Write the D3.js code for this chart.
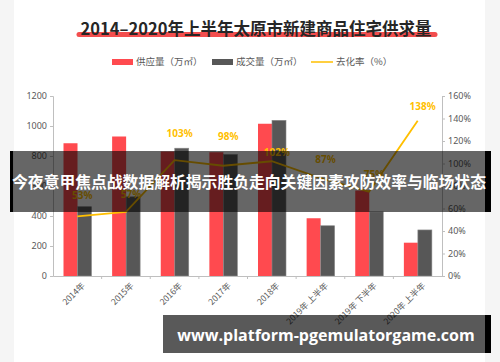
<!DOCTYPE html>
<html>
<head>
<meta charset="utf-8">
<script src="https://cdn.jsdelivr.net/npm/d3@7"></script>
<style>
  body { margin: 0; background: #fff; }
  svg { display: block; font-family: "Noto Sans CJK SC", "Noto Sans", sans-serif; }
</style>
</head>
<body>
<svg id="chart" width="500" height="362"></svg>
<script>
// 数据
const categories = ["2014年", "2015年", "2016年", "2017年", "2018年", "2019年 上半年", "2019年 下半年", "2020年 上半年"];
const supply = [885, 930, 830, 825, 1015, 385, 570, 222];
const deal = [462, 528, 852, 810, 1038, 335, 428, 307];
const rate = [53, 57, 103, 98, 102, 87, 75, 138];
const leftTicks = [0, 200, 400, 600, 800, 1000, 1200];
const rightTicks = [0, 20, 40, 60, 80, 100, 120, 140, 160];

// label offsets above the line point (layout only)
const labelDy = [-21, -17, -27, -29, -9, -19, -17, -14];

const svg = d3.select("#chart");
const W = 500, H = 362;
const margin = {top: 96, right: 58, bottom: 86, left: 53};
const plotBottom = H - margin.bottom; // 276

// faint card background
svg.append("rect").attr("width", W).attr("height", H).attr("fill", "#f5f5f5");
svg.append("rect").attr("x", 14).attr("y", 0).attr("width", 471).attr("height", H).attr("fill", "#fff");

// title with red brush underline
svg.append("line")
    .attr("x1", 79).attr("x2", 435).attr("y1", 34.5).attr("y2", 34.5)
    .attr("stroke", "#f23b3b").attr("stroke-width", 5).attr("stroke-linecap", "round")
    .attr("opacity", 0.9);
svg.append("text")
    .attr("x", 256).attr("y", 35)
    .attr("text-anchor", "middle")
    .attr("font-size", 16.5).attr("font-weight", "bold").attr("fill", "#262626")
    .text("2014–2020年上半年太原市新建商品住宅供求量");

// scales
const x = d3.scaleBand().domain(categories).range([margin.left, W - margin.right]);
const x1 = d3.scaleBand().domain(["supply", "deal"]).range([10.5, 38.5]);
const y = d3.scaleLinear().domain([0, 1200]).range([plotBottom, margin.top]);
const yR = d3.scaleLinear().domain([0, 160]).range([plotBottom, margin.top]);

const axisColor = "#bfbfbf";
const tickText = "#595959";

// bars
const bars = svg.append("g");
bars.selectAll(".supply")
    .data(supply)
    .join("rect")
    .attr("x", (d, i) => x(categories[i]) + x1("supply"))
    .attr("y", d => y(d))
    .attr("width", x1.bandwidth())
    .attr("height", d => plotBottom - y(d))
    .attr("fill", "#ff4a4f");
bars.selectAll(".deal")
    .data(deal)
    .join("rect")
    .attr("x", (d, i) => x(categories[i]) + x1("deal"))
    .attr("y", d => y(d))
    .attr("width", x1.bandwidth())
    .attr("height", d => plotBottom - y(d))
    .attr("fill", "#575757")
    .attr("stroke", "#8a8a8a").attr("stroke-width", 0.6);

// left axis
const gL = svg.append("g")
    .attr("transform", `translate(${margin.left},0)`)
    .call(d3.axisLeft(y).tickValues(leftTicks).tickSize(3).tickPadding(3).tickFormat(d3.format("d")));
// right axis
const gR = svg.append("g")
    .attr("transform", `translate(${W - margin.right},0)`)
    .call(d3.axisRight(yR).tickValues(rightTicks).tickSize(3).tickPadding(3).tickFormat(d => d + "%"));
// bottom axis
const gB = svg.append("g")
    .attr("transform", `translate(0,${plotBottom})`)
    .call(d3.axisBottom(x).tickSize(0).tickFormat(""));
gB.selectAll(".boundary")
    .data(categories.slice(1))
    .join("line")
    .attr("x1", d => x(d)).attr("x2", d => x(d))
    .attr("y1", 0).attr("y2", 3)
    .attr("stroke", axisColor);

[gL, gR, gB].forEach(g => {
    g.select(".domain").attr("stroke", axisColor);
    g.selectAll(".tick line").attr("stroke", axisColor);
    g.selectAll("text").attr("fill", tickText).attr("font-size", 9)
        .attr("font-family", "'Noto Sans', sans-serif");
});

// rotated category labels
svg.append("g").selectAll("text")
    .data(categories)
    .join("text")
    .attr("transform", d => `translate(${x(d) + x.bandwidth() / 2 + 4},${plotBottom + 6}) rotate(-45)`)
    .attr("text-anchor", "end")
    .attr("dy", "0.7em")
    .attr("font-size", 8.5)
    .attr("fill", tickText)
    .text(d => d);

// rate line
const line = d3.line()
    .x((d, i) => x(categories[i]) + x.bandwidth() / 2)
    .y(d => yR(d));
svg.append("path")
    .datum(rate)
    .attr("d", line)
    .attr("fill", "none")
    .attr("stroke", "#ffbf00")
    .attr("stroke-width", 1.8);

svg.append("g").selectAll("text")
    .data(rate)
    .join("text")
    .attr("x", (d, i) => x(categories[i]) + x.bandwidth() / 2 + 5)
    .attr("y", (d, i) => yR(d) + labelDy[i])
    .attr("dy", "0.35em")
    .attr("text-anchor", "middle")
    .attr("font-size", 10).attr("font-weight", "bold")
    .attr("font-family", "'Noto Sans', sans-serif")
    .attr("fill", "#ffbf00")
    .text(d => d + "%");

// legend
const legend = svg.append("g").attr("font-size", 9.5).attr("fill", "#595959");
legend.append("rect").attr("x", 112).attr("y", 59).attr("width", 21).attr("height", 6).attr("fill", "#ff4a4f");
legend.append("text").attr("x", 136).attr("y", 62).attr("dy", "0.35em").attr("fill", "#595959").text("供应量（万㎡）");
legend.append("rect").attr("x", 212).attr("y", 59).attr("width", 21).attr("height", 6).attr("fill", "#575757");
legend.append("text").attr("x", 236).attr("y", 62).attr("dy", "0.35em").attr("fill", "#595959").text("成交量（万㎡）");
legend.append("line").attr("x1", 311).attr("x2", 333).attr("y1", 62).attr("y2", 62).attr("stroke", "#ffbf00").attr("stroke-width", 1.5);
legend.append("text").attr("x", 336).attr("y", 62).attr("dy", "0.35em").attr("fill", "#595959").text("去化率（%）");

// overlay banners
svg.append("rect").attr("x", 10).attr("y", 151).attr("width", 481).attr("height", 61).attr("fill", "rgba(0,0,0,0.6)");
svg.append("rect").attr("x", 10).attr("y", 151).attr("width", 3).attr("height", 61).attr("fill", "#000");
svg.append("rect").attr("x", 485).attr("y", 151).attr("width", 6).attr("height", 61).attr("fill", "#000");
svg.append("text")
    .attr("x", 249).attr("y", 182).attr("dy", "0.35em")
    .attr("text-anchor", "middle")
    .attr("font-size", 15.8).attr("font-weight", "bold").attr("fill", "#fff")
    .text("今夜意甲焦点战数据解析揭示胜负走向关键因素攻防效率与临场状态");

svg.append("rect").attr("x", 163).attr("y", 315).attr("width", 328).attr("height", 38).attr("fill", "rgba(0,0,0,0.65)");
svg.append("rect").attr("x", 485).attr("y", 315).attr("width", 6).attr("height", 38).attr("fill", "#000");
svg.append("text")
    .attr("x", 326).attr("y", 335).attr("dy", "0.35em")
    .attr("text-anchor", "middle")
    .attr("font-size", 16).attr("font-weight", "bold").attr("fill", "#fff")
    .attr("font-family", "'Open Sans', 'Noto Sans', sans-serif")
    .text("www.platform-pgemulatorgame.com");
</script>
</body>
</html>
